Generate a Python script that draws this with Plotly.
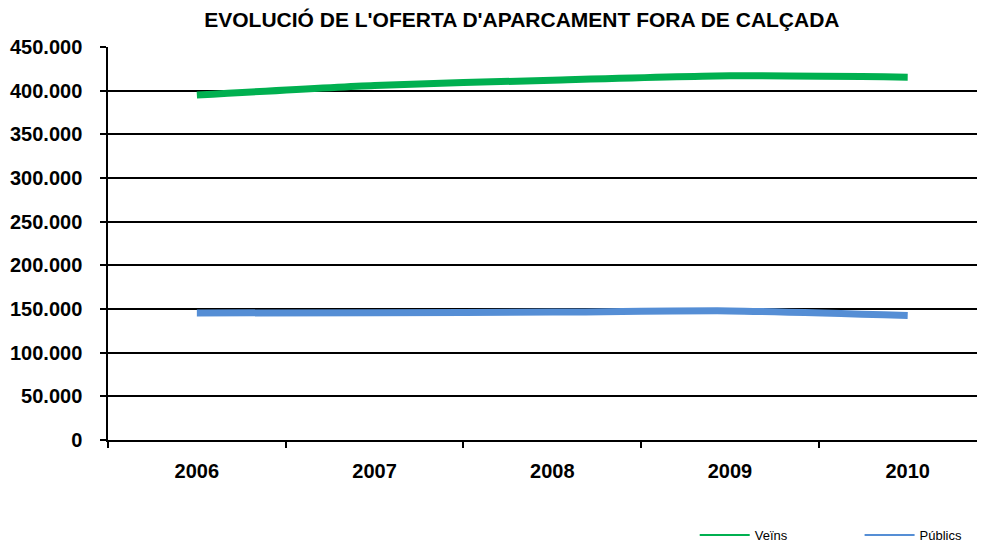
import plotly.graph_objects as go

years = ["2006", "2007", "2008", "2009", "2010"]
veins = [395000, 406000, 412000, 417000, 415500]
publics = [145500, 145700, 146500, 147800, 142500]

series = [
    ("Veïns", veins, "#00B050", "legend"),
    ("Públics", publics, "#558ED5", "legend2"),
]

fig = go.Figure()

for name, values, color, legend_id in series:
    fig.add_trace(
        go.Scatter(
            x=years,
            y=values,
            name=name,
            mode="lines",
            line=dict(color=color, width=7, shape="spline", smoothing=0.6),
            showlegend=False,
        )
    )
    # thin legend-only entry, like the Excel key
    fig.add_trace(
        go.Scatter(
            x=[None],
            y=[None],
            name=name,
            mode="lines",
            line=dict(color=color, width=2),
            legend=legend_id,
            showlegend=True,
            hoverinfo="skip",
        )
    )

# page body has an 8px margin, so the figure is sized to fit inside it
legend_style = dict(
    orientation="h",
    xanchor="left",
    yref="container",
    y=0.013,
    yanchor="middle",
    font=dict(size=13),
    itemwidth=50,
    bgcolor="rgba(0,0,0,0)",
)

fig.update_layout(
    width=977,
    height=534,
    showlegend=True,
    plot_bgcolor="white",
    paper_bgcolor="white",
    separators=",.",
    font=dict(family="Liberation Sans, Arial, sans-serif", color="black"),
    title=dict(
        text="<b>EVOLUCIÓ DE L'OFERTA D'APARCAMENT FORA DE CALÇADA</b>",
        x=0.526,
        xanchor="center",
        y=0.979,
        yanchor="middle",
        font=dict(size=21),
    ),
    margin=dict(l=100, r=0, t=39, b=102),
    legend=dict(x=0.669, **legend_style),
    legend2=dict(x=0.857, **legend_style),
)

fig.update_xaxes(
    type="category",
    range=[-0.5, 4.435],
    showgrid=False,
    showline=True,
    linecolor="black",
    linewidth=1.5,
    ticks="outside",
    tickson="boundaries",
    ticklen=6,
    tickcolor="black",
    tickwidth=1.5,
    tickfont=dict(size=20),
    ticklabelstandoff=12,
    tickprefix="<b>",
    ticksuffix="</b>",
)
fig.update_yaxes(
    range=[0, 450000],
    dtick=50000,
    tickformat=",d",
    showgrid=True,
    gridcolor="black",
    gridwidth=1.5,
    showline=True,
    linecolor="black",
    linewidth=1.5,
    ticks="outside",
    ticklen=6,
    tickcolor="black",
    tickwidth=1.5,
    tickfont=dict(size=20),
    ticklabelstandoff=14,
    tickprefix="<b>",
    ticksuffix="</b>",
    zeroline=False,
)

fig.write_html("out.html")
